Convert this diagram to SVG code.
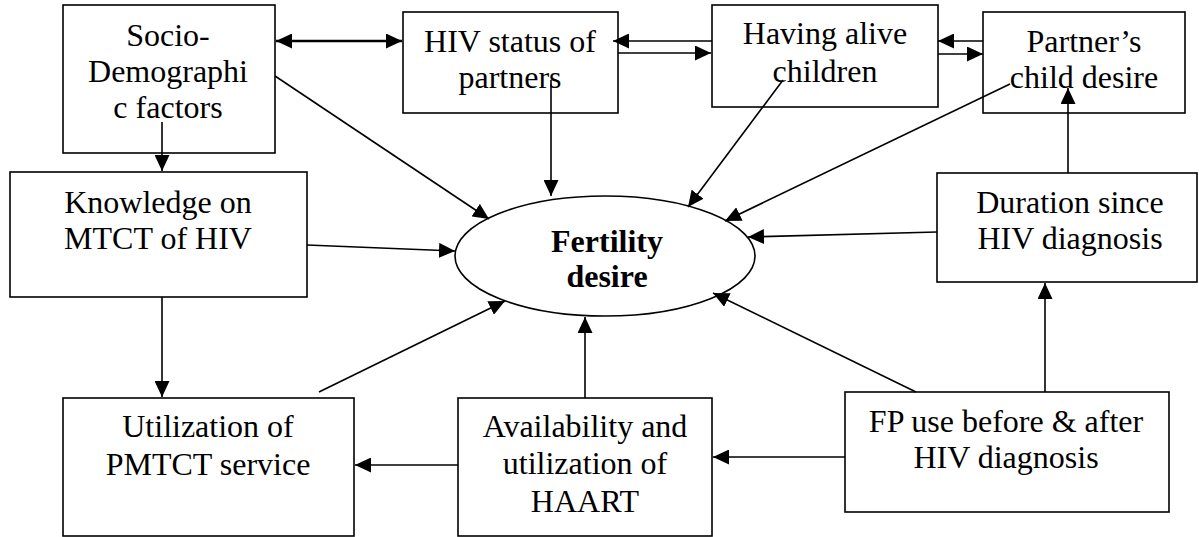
<svg xmlns="http://www.w3.org/2000/svg" width="1199" height="537" viewBox="0 0 1199 537">
<style>
.box{fill:#fff;stroke:#000;stroke-width:1.6}
.t{font-family:"Liberation Serif","Times New Roman",serif;font-size:32px;fill:#000;text-anchor:middle}
.b{font-weight:bold}
.c{fill:none;stroke:#000;stroke-width:1.6}
.thick{stroke-width:2.6}
</style>
<defs>
<marker id="ah" markerUnits="userSpaceOnUse" markerWidth="16" markerHeight="15" refX="16" refY="7.5" orient="auto-start-reverse">
<path d="M0,0 L16,7.5 L0,15 z" fill="#000"/>
</marker>
</defs>
<rect width="1199" height="537" fill="#fff"/>
<g id="socio"><rect class="box" x="63" y="5" width="212" height="148"/>
<text class="t" x="168" y="46">Socio-</text><text class="t" x="168" y="82">Demographi</text><text class="t" x="168" y="118">c factors</text></g>
<g id="hivstatus"><rect class="box" x="403" y="12" width="215" height="101"/>
<text class="t" x="510" y="52">HIV status of</text><text class="t" x="510" y="88">partners</text></g>
<g id="children"><rect class="box" x="712" y="5" width="226" height="102"/>
<text class="t" x="825" y="44">Having alive</text><text class="t" x="825" y="82">children</text></g>
<g id="partner"><rect class="box" x="983" y="12" width="202" height="101"/>
<text class="t" x="1084" y="52">Partner’s</text><text class="t" x="1084" y="88">child desire</text></g>
<g id="knowledge"><rect class="box" x="10" y="172" width="297" height="125"/>
<text class="t" x="158" y="213">Knowledge on</text><text class="t" x="158" y="249">MTCT of HIV</text></g>
<g id="duration"><rect class="box" x="937" y="173" width="260" height="109"/>
<text class="t" x="1070" y="213">Duration since</text><text class="t" x="1070" y="249">HIV diagnosis</text></g>
<g id="fertility"><ellipse class="box" cx="605" cy="256" rx="150" ry="60"/>
<text class="t b" x="607" y="252">Fertility</text><text class="t b" x="607" y="287">desire</text></g>
<g id="pmtct"><rect class="box" x="63" y="398" width="291" height="138"/>
<text class="t" x="208" y="437">Utilization of</text><text class="t" x="208" y="475">PMTCT service</text></g>
<g id="haart"><rect class="box" x="458" y="398" width="254" height="138"/>
<text class="t" x="585" y="437">Availability and</text><text class="t" x="585" y="474">utilization of</text><text class="t" x="585" y="512">HAART</text></g>
<g id="fp"><rect class="box" x="845" y="392" width="324" height="120"/>
<text class="t" x="1006" y="432">FP use before &amp; after</text><text class="t" x="1006" y="468">HIV diagnosis</text></g>
<g id="connectors" marker-end="url(#ah)">
<line class="c thick" x1="276" y1="41" x2="402" y2="41" marker-start="url(#ah)"/>
<line class="c" x1="712" y1="41" x2="613" y2="41"/>
<line class="c" x1="618" y1="53" x2="711" y2="53"/>
<line class="c" x1="983" y1="41" x2="938" y2="41"/>
<line class="c" x1="938" y1="54" x2="983" y2="54"/>
<line class="c" x1="162" y1="122" x2="162" y2="171"/>
<line class="c" x1="275" y1="76" x2="489" y2="219"/>
<line class="c" x1="551" y1="80" x2="551" y2="196"/>
<line class="c" x1="783" y1="80" x2="688" y2="207"/>
<line class="c" x1="1010" y1="84" x2="725" y2="221"/>
<line class="c" x1="307" y1="245" x2="455" y2="251"/>
<line class="c" x1="937" y1="232" x2="748" y2="237"/>
<line class="c" x1="1068" y1="173" x2="1068" y2="88"/>
<line class="c" x1="162" y1="297" x2="162" y2="397"/>
<line class="c" x1="319" y1="392" x2="505" y2="301"/>
<line class="c" x1="585" y1="398" x2="585" y2="317"/>
<line class="c" x1="916" y1="392" x2="713" y2="293"/>
<line class="c" x1="1045" y1="392" x2="1045" y2="283"/>
<line class="c" x1="458" y1="465" x2="355" y2="465"/>
<line class="c" x1="845" y1="457" x2="713" y2="457"/>
</g>
</svg>
